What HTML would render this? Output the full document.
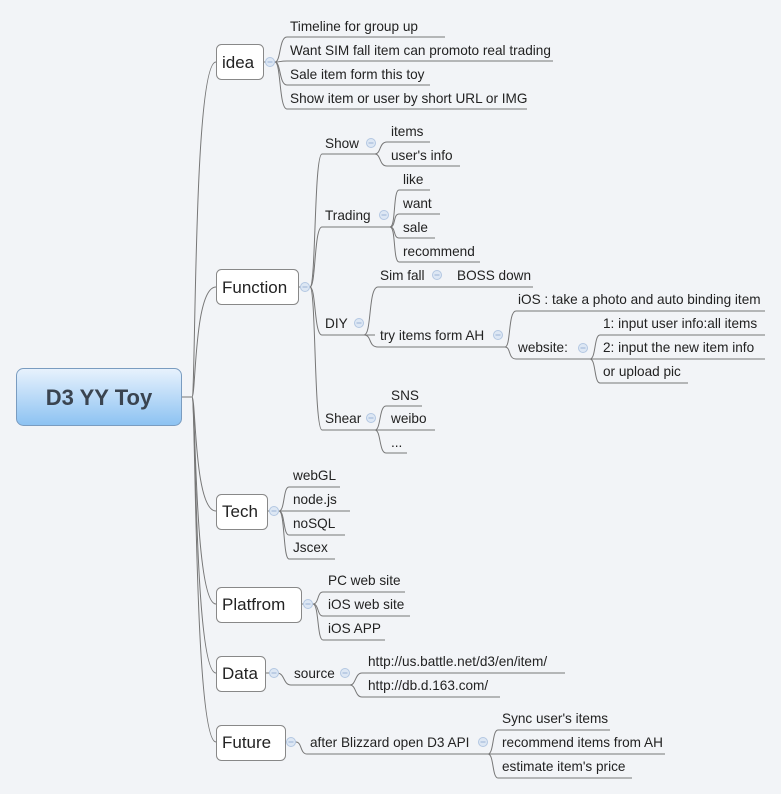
<!DOCTYPE html>
<html><head><meta charset="utf-8"><style>
html,body{margin:0;padding:0;background:#f2f4f7;}
svg{display:block;font-family:"Liberation Sans","DejaVu Sans",sans-serif;}
.l{fill:none;stroke:#777;stroke-width:1;}
.t{font-size:13.6px;fill:#222;}
.m{font-size:17px;fill:#222;}
.c{fill:#dde7f4;stroke:#b3c7e2;stroke-width:1;}
.cm{stroke:#9bb3d6;stroke-width:1;}
</style></head><body>
<svg width="781" height="794" viewBox="0 0 781 794">
<defs>
<linearGradient id="g" x1="0" y1="0" x2="0" y2="1"><stop offset="0" stop-color="#e8f2fd"/><stop offset="1" stop-color="#8cc2f2"/></linearGradient>
<g id="col"><circle r="4.5" class="c"/><line x1="-2.5" x2="2.5" y1="0" y2="0" class="cm"/></g>
</defs>
<g class="l">
<path d="M182 397 H192 C196 397 193 62 216 62"/>
<path d="M182 397 H192 C196 397 194 287 216 287"/>
<path d="M182 397 H192 C196 397 194 511 216 511"/>
<path d="M182 397 H192 C196 397 194 604 216 604"/>
<path d="M182 397 H192 C196 397 194 673 216 673"/>
<path d="M182 397 H192 C196 397 194 742 216 742"/>
</g>
<rect x="16.5" y="368.5" width="165" height="57" rx="7" fill="url(#g)" stroke="#7a9cc0"/>
<text x="99" y="405" text-anchor="middle" style="font-size:22px;font-weight:bold;fill:#3a4450">D3 YY Toy</text>
<g fill="#fff" stroke="#888">
<rect x="216.5" y="44.5" width="47" height="35" rx="5"/>
<rect x="216.5" y="269.5" width="82" height="35" rx="5"/>
<rect x="216.5" y="494.5" width="51" height="35" rx="5"/>
<rect x="216.5" y="587.5" width="85" height="35" rx="5"/>
<rect x="216.5" y="656.5" width="49" height="35" rx="5"/>
<rect x="216.5" y="725.5" width="69" height="35" rx="5"/>
</g>
<text class="m" x="222" y="68">idea</text>
<text class="m" x="222" y="293">Function</text>
<text class="m" x="222" y="517">Tech</text>
<text class="m" x="222" y="610">Platfrom</text>
<text class="m" x="222" y="679">Data</text>
<text class="m" x="222" y="748">Future</text>

<g class="l">
<path d="M264 62 H275 C281 62 279 37 287 37 H445"/>
<path d="M275 62 C281 62 279 61 287 61 H553"/>
<path d="M275 62 C281 62 279 85 287 85 H430"/>
<path d="M275 62 C281 62 279 109 287 109 H527"/>
<path d="M299 287 H310 C316 287 314 154 322 154 H375"/>
<path d="M310 287 C316 287 314 227 322 227 H390"/>
<path d="M310 287 C316 287 314 335 322 335 H375"/>
<path d="M310 287 C316 287 314 430 322 430 H375"/>
<path d="M375 154 C381 154 379 142 387 142 H430"/>
<path d="M375 154 C381 154 379 166 387 166 H460"/>
<path d="M390 227 C396 227 393 190 399 190 H430"/>
<path d="M390 227 C396 227 393 214 399 214 H440"/>
<path d="M390 227 C396 227 393 238 399 238 H435"/>
<path d="M390 227 C396 227 393 262 399 262 H480"/>
<path d="M364 335 C372 335 368 287 378 287 H533"/>
<path d="M364 335 C372 335 368 347 378 347 H505"/>
<path d="M505 347 C511 347 508 311 516 311 H765"/>
<path d="M505 347 C511 347 508 359 516 359 H590"/>
<path d="M590 359 C596 359 594 335 600 335 H765"/>
<path d="M590 359 C596 359 594 359 600 359 H765"/>
<path d="M590 359 C596 359 594 383 600 383 H688"/>
<path d="M375 430 C381 430 379 406 386 406 H422"/>
<path d="M375 430 C381 430 379 430 386 430 H435"/>
<path d="M375 430 C381 430 379 453 386 453 H407"/>
<path d="M268 511 H279 C285 511 283 487 289 487 H340"/>
<path d="M279 511 C285 511 283 511 289 511 H350"/>
<path d="M279 511 C285 511 283 535 289 535 H345"/>
<path d="M279 511 C285 511 283 559 289 559 H335"/>
<path d="M302 604 H313 C319 604 317 592 323 592 H405"/>
<path d="M313 604 C319 604 317 616 323 616 H410"/>
<path d="M313 604 C319 604 317 640 323 640 H385"/>
<path d="M266 673 H277 C285 673 283 685 291 685 H350"/>
<path d="M350 685 C356 685 355 673 362 673 H565"/>
<path d="M350 685 C356 685 355 697 362 697 H500"/>
<path d="M286 742 H296 C302 742 300 754 307 754 H488"/>
<path d="M488 754 C494 754 492 730 498 730 H610"/>
<path d="M488 754 C494 754 492 754 498 754 H665"/>
<path d="M488 754 C494 754 492 778 498 778 H632"/>
</g>

<use href="#col" x="270" y="62"/>
<use href="#col" x="305" y="287"/>
<use href="#col" x="371" y="143"/>
<use href="#col" x="384" y="215"/>
<use href="#col" x="359" y="323"/>
<use href="#col" x="437" y="275"/>
<use href="#col" x="498" y="335"/>
<use href="#col" x="583" y="348"/>
<use href="#col" x="371" y="418"/>
<use href="#col" x="274" y="511"/>
<use href="#col" x="308" y="604"/>
<use href="#col" x="274" y="673"/>
<use href="#col" x="345" y="673"/>
<use href="#col" x="291" y="742"/>
<use href="#col" x="483" y="742"/>

<g class="t">
<text x="290" y="31">Timeline for  group up</text>
<text x="290" y="55">Want SIM fall item can promoto real trading</text>
<text x="290" y="79">Sale item form this toy</text>
<text x="290" y="103">Show item or user by short URL or IMG</text>
<text x="325" y="148">Show</text>
<text x="325" y="220">Trading</text>
<text x="325" y="328">DIY</text>
<text x="325" y="423">Shear</text>
<text x="391" y="136">items</text>
<text x="391" y="160">user's info</text>
<text x="403" y="184">like</text>
<text x="403" y="208">want</text>
<text x="403" y="232">sale</text>
<text x="403" y="256">recommend</text>
<text x="380" y="280">Sim fall</text>
<text x="457" y="280">BOSS down</text>
<text x="380" y="340">try items form AH</text>
<text x="518" y="304">iOS : take a photo and auto binding item</text>
<text x="518" y="352">website:</text>
<text x="603" y="328">1: input user info:all items</text>
<text x="603" y="352">2: input the new item info</text>
<text x="603" y="376">or upload pic</text>
<text x="391" y="400">SNS</text>
<text x="391" y="423">weibo</text>
<text x="391" y="447">...</text>
<text x="293" y="480">webGL</text>
<text x="293" y="504">node.js</text>
<text x="293" y="528">noSQL</text>
<text x="293" y="552">Jscex</text>
<text x="328" y="585">PC web site</text>
<text x="328" y="609">iOS web site</text>
<text x="328" y="633">iOS APP</text>
<text x="294" y="678">source</text>
<text x="368" y="666">http://us.battle.net/d3/en/item/</text>
<text x="368" y="690">http://db.d.163.com/</text>
<text x="310" y="747">after Blizzard open D3 API</text>
<text x="502" y="723">Sync user's items</text>
<text x="502" y="747">recommend items from AH</text>
<text x="502" y="771">estimate item's price</text>
</g>
</svg>
</body></html>
